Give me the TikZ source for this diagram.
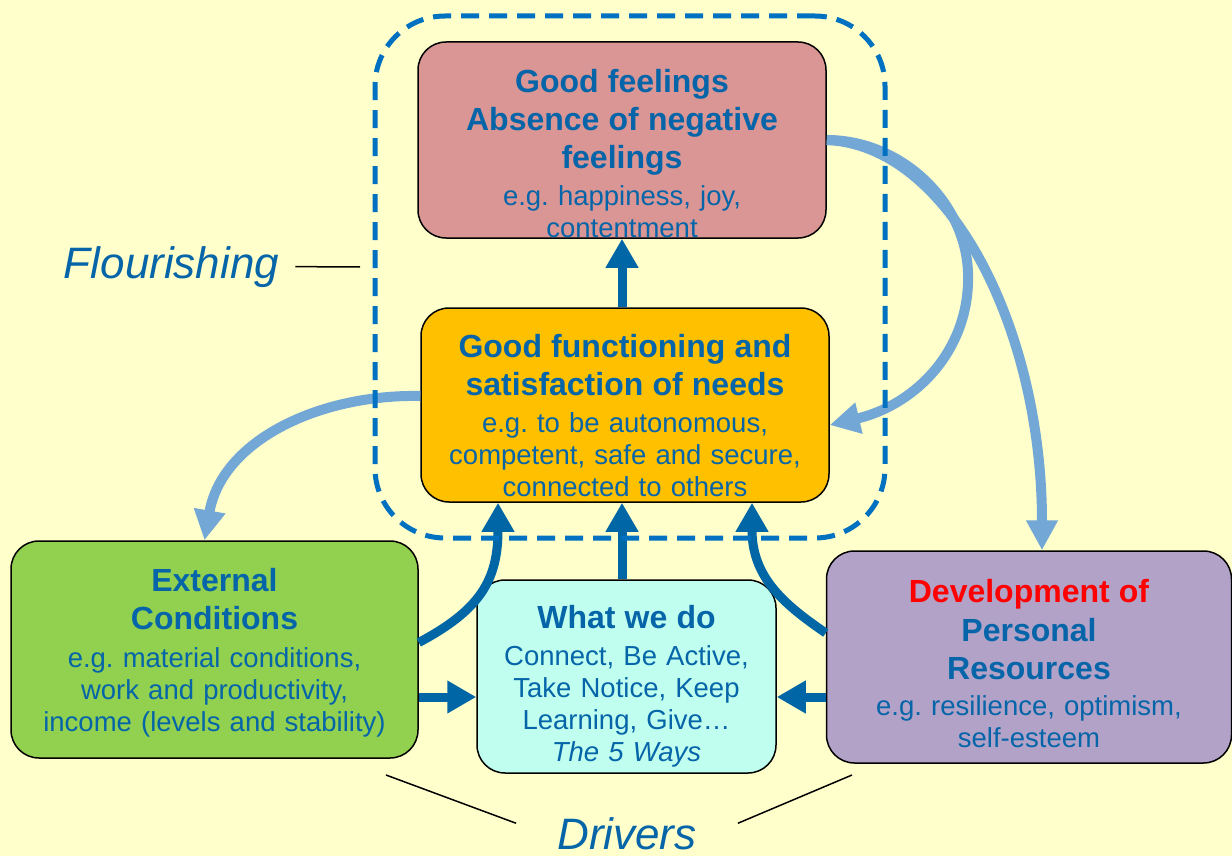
\documentclass[tikz,border=0pt]{standalone}
\usepackage{fontspec}
\setmainfont{Liberation Sans}
\frenchspacing
\definecolor{PaleYellow}{HTML}{FFFFCC}
\definecolor{TextBlue}{HTML}{0565A8}
\definecolor{DashBlue}{HTML}{0070C0}
\definecolor{DarkArrow}{HTML}{0066A6}
\definecolor{LightArrow}{HTML}{73A7D5}
\definecolor{RoseFill}{HTML}{D99694}
\definecolor{AmberFill}{HTML}{FFC000}
\definecolor{LeafFill}{HTML}{92D050}
\definecolor{MintFill}{HTML}{C0FFEF}
\definecolor{LilacFill}{HTML}{B2A2C7}
\definecolor{AlertRed}{HTML}{FF0000}
\usetikzlibrary{arrows.meta,positioning,calc}
\newcommand{\headtxt}{\fontsize{32}{38}\selectfont\bfseries}
\newcommand{\topgap}[1]{\rule{0pt}{\dimexpr 23.5pt+#1\relax}}
\tikzset{
  box/.style={draw=black, line width=1.5pt, rounded corners=28pt, align=center, inner xsep=8pt, inner ysep=0pt, text=TextBlue, font=\fontsize{27.5}{32}\selectfont},
  flourFrame/.style={draw=DashBlue, line width=5pt, dash pattern=on 18pt off 10pt, rounded corners=70pt},
  tagText/.style={text=TextBlue, inner sep=0pt, font=\fontsize{44}{52}\selectfont\itshape},
  pointer/.style={draw=black, line width=1.5pt},
  darkArrow/.style={-{Triangle[width=31pt,length=29pt]}, line width=9pt, draw=DarkArrow},
  lightArrow/.style={-{Triangle[width=30pt,length=30pt]}, line width=10pt, draw=LightArrow}
}

\begin{document}
\begin{tikzpicture}[x=1pt,y=-1pt]
\fill[PaleYellow] (0,0) rectangle (1232,856);
\useasboundingbox (0,0) rectangle (1232,856);

% flourishing
\node[box, fill=RoseFill, text width=392pt, minimum height=196pt] (goodFeel) at (622,140)
  {\topgap{26pt}{\headtxt Good feelings}\\[6pt]{\headtxt Absence of negative}\\[6pt]{\headtxt feelings}\\[5pt]
   e.g. happiness, joy,\\ contentment};
\node[box, fill=AmberFill, text width=392pt, minimum height=194pt] (goodFunc) at (625,405)
  {\topgap{20pt}{\headtxt Good functioning and}\\[6pt]{\headtxt satisfaction of needs}\\[5pt]
   e.g. to be autonomous,\\ competent, safe and secure,\\ connected to others};

% drivers
\node[box, fill=LeafFill, text width=391pt, minimum height=217pt] (extCond) at (214.5,649.5)
  {\topgap{6pt}{\headtxt External}\\[6pt]{\headtxt Conditions}\\[6pt]
   e.g. material conditions,\\ work and productivity,\\ income (levels and stability)};
\node[box, fill=MintFill, text width=283pt, minimum height=193pt] (whatDo) at (626.5,676.5)
  {\topgap{20pt}{\headtxt What we do}\\[5pt]
   Connect, Be Active,\\ Take Notice, Keep\\ Learning, Give…\\ \textit{The 5 Ways}};
\node[box, fill=LilacFill, text width=389pt, minimum height=212pt] (devRes) at (1029,657)
  {\topgap{12pt}{\headtxt\color{AlertRed} Development of}\\[7pt]{\headtxt Personal}\\[6pt]{\headtxt Resources}\\[4pt]
   e.g. resilience, optimism,\\ self-esteem};

% arrows
\draw[darkArrow] (goodFunc.north -| goodFeel.south) -- (goodFeel.south);
\draw[darkArrow] (whatDo.north -| goodFeel.south) -- (goodFunc.south -| goodFeel.south);
\draw[darkArrow] ([yshift=7pt]extCond.east) .. controls (480,610) and (498,580) .. ([xshift=-127pt]goodFunc.south);
\draw[darkArrow] ([yshift=24pt]devRes.west) .. controls (785,605) and (752,578) .. ([xshift=127pt]goodFunc.south);
\draw[darkArrow] (extCond.east |- 0,697) -- (whatDo.west |- 0,697);
\draw[darkArrow] (devRes.west |- 0,697) -- (whatDo.east |- 0,697);

\draw[lightArrow] ([yshift=9pt]goodFunc.west) .. controls (320,394) and (222,440) .. ([xshift=-10pt]extCond.north);
\draw[lightArrow] (goodFeel.east) .. controls (900,140) and (965,200) .. (968,272)
  .. controls (971,350) and (915,405) .. ([yshift=-20pt]goodFunc.east);
\draw[lightArrow] (goodFeel.east) .. controls (950,145) and (1042,330) .. ([xshift=13pt]devRes.north);

\node[flourFrame, minimum width=510pt, minimum height=522pt] (flourBox) at (630,277) {};

% labels
\node[tagText, anchor=base] (flourTag) at (171.5,278) {Flourishing};
\coordinate (flourEnd) at (360,267);
\draw[pointer] ([xshift=16pt]flourTag.east) -- (flourEnd);

\node[tagText, anchor=base] (drivTag) at (627,849) {Drivers};
\coordinate (drivLeft) at (386,775);
\coordinate (drivRight) at (852,775);
\draw[pointer] (drivLeft) -- ([xshift=-41pt,yshift=10pt]drivTag.west);
\draw[pointer] (drivRight) -- ([xshift=41pt,yshift=10pt]drivTag.east);
\end{tikzpicture}
\end{document}
